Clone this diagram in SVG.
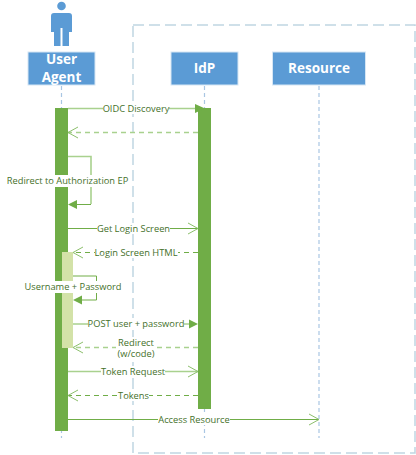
<svg xmlns="http://www.w3.org/2000/svg" width="416" height="455" viewBox="0 0 416 455">
<style>
.box{fill:#5B9BD5;stroke:#D6E6F4;stroke-width:1}
.bt{font-family:"Open Sans","Noto Sans",sans-serif;font-weight:700;font-size:13.5px;fill:#fff;text-anchor:middle}
.life{fill:none;stroke:#A9C6E3;stroke-width:1.2;stroke-dasharray:4 3}
.act{fill:#70AD47}
.m{fill:none;stroke:#70AD47;stroke-width:1}
.l{fill:none;stroke:#A9D18E;stroke-width:1.6}
.d{stroke-dasharray:5 4}
.o{fill:none;stroke:#8CBF6C;stroke-width:1}
.f{fill:#70AD47}
.lab{font-family:"Open Sans","Noto Sans",sans-serif;font-size:9.3px;fill:#44702A;text-anchor:middle}
.bg{fill:#fff}
</style>
<path id="frame" d="M133 25H415V453H133Z" fill="none" stroke="#C0D6E2" stroke-width="1.5" stroke-dasharray="11 5"/>
<g id="actor">
<circle cx="61.500" cy="6" r="4.300" fill="#5B9BD5"/>
<path d="M54 13H69Q72 13 72 16V32H69V46H62.500V28H60.500V46H54V32H51V16Q51 13 54 13Z" fill="#5B9BD5"/>
</g>
<g id="user-agent"><rect class="box" x="28" y="52" width="67" height="33"/><text class="bt" x="61.500" y="63.500">User</text><text class="bt" x="61.500" y="82">Agent</text></g>
<g id="idp"><rect class="box" x="171" y="52" width="67" height="33"/><text class="bt" x="204.500" y="73">IdP</text></g>
<g id="resource"><rect class="box" x="272.500" y="52" width="93" height="33"/><text class="bt" x="319" y="73">Resource</text></g>
<g id="lifelines">
<path class="life" d="M61.500 86V438M204.500 86V438M319 86V438"/>
</g>
<g id="activations">
<rect class="act" x="55" y="108" width="13" height="323"/>
<rect class="act" x="198" y="108" width="13" height="301"/>
<rect x="62" y="252" width="11" height="96" fill="#D3E2A8"/>
</g>
<g id="connectors">
<path class="l" d="M68 108.500H198"/><path class="f" d="M195 104L205 108.500L195 113Z"/>
<path class="l d" d="M198 132.500H68"/><path class="o" d="M78 127L68 132.500L78 138"/>
<path class="l" d="M68 156.500H91V204"/><path class="m" d="M91 204.500H76"/><path class="f" d="M68 204.500L77 200V209Z"/>
<path class="m" d="M68 228.500H198"/><path class="o" d="M188 223L198 228.500L188 234"/>
<path class="m d" d="M198 252.500H73"/><path class="o" d="M83 247L73 252.500L83 258"/>
<path class="m" d="M73 276H96.500V300H82"/><path class="f" d="M73 300L82 295.500V304.500Z"/>
<path class="l" d="M73 324H190"/><path class="f" d="M189 319.500L198 324L189 328.500Z"/>
<path class="l d" d="M198 347.500H73"/><path class="o" d="M83 342L73 347.500L83 353"/>
<path class="l" d="M68 371.500H198"/><path class="o" d="M188 366L198 371.500L188 377"/>
<path class="m d" d="M198 395.500H68"/><path class="o" d="M78 390L68 395.500L78 401"/>
<path class="m" d="M68 419.500H319"/><path class="o" d="M309 414L319 419.500L309 425"/>
</g>
<g id="labels">
<rect class="bg" x="103" y="103" width="66" height="11"/><text class="lab" x="136" y="112">OIDC Discovery</text>
<rect class="bg" x="6" y="175" width="124" height="12"/><text class="lab" x="67.500" y="184">Redirect to Authorization EP</text>
<rect class="bg" x="97" y="223" width="73" height="11"/><text class="lab" x="133.500" y="232">Get Login Screen</text>
<rect class="bg" x="95" y="247" width="83" height="11"/><text class="lab" x="136" y="255.500">Login Screen HTML</text>
<rect class="bg" x="25" y="281" width="96" height="12"/><text class="lab" x="73" y="290">Username + Password</text>
<rect class="bg" x="88" y="318" width="96" height="12"/><text class="lab" x="136" y="327">POST user + password</text>
<rect class="bg" x="116" y="337" width="40" height="23"/><text class="lab" x="136" y="345.500">Redirect</text><text class="lab" x="136" y="357">(w/code)</text>
<rect class="bg" x="101" y="366" width="64" height="11"/><text class="lab" x="133" y="375">Token Request</text>
<rect class="bg" x="118" y="390" width="31" height="11"/><text class="lab" x="133.500" y="399">Tokens</text>
<rect class="bg" x="158" y="414" width="72" height="11"/><text class="lab" x="194" y="423">Access Resource</text>
</g>
</svg>
